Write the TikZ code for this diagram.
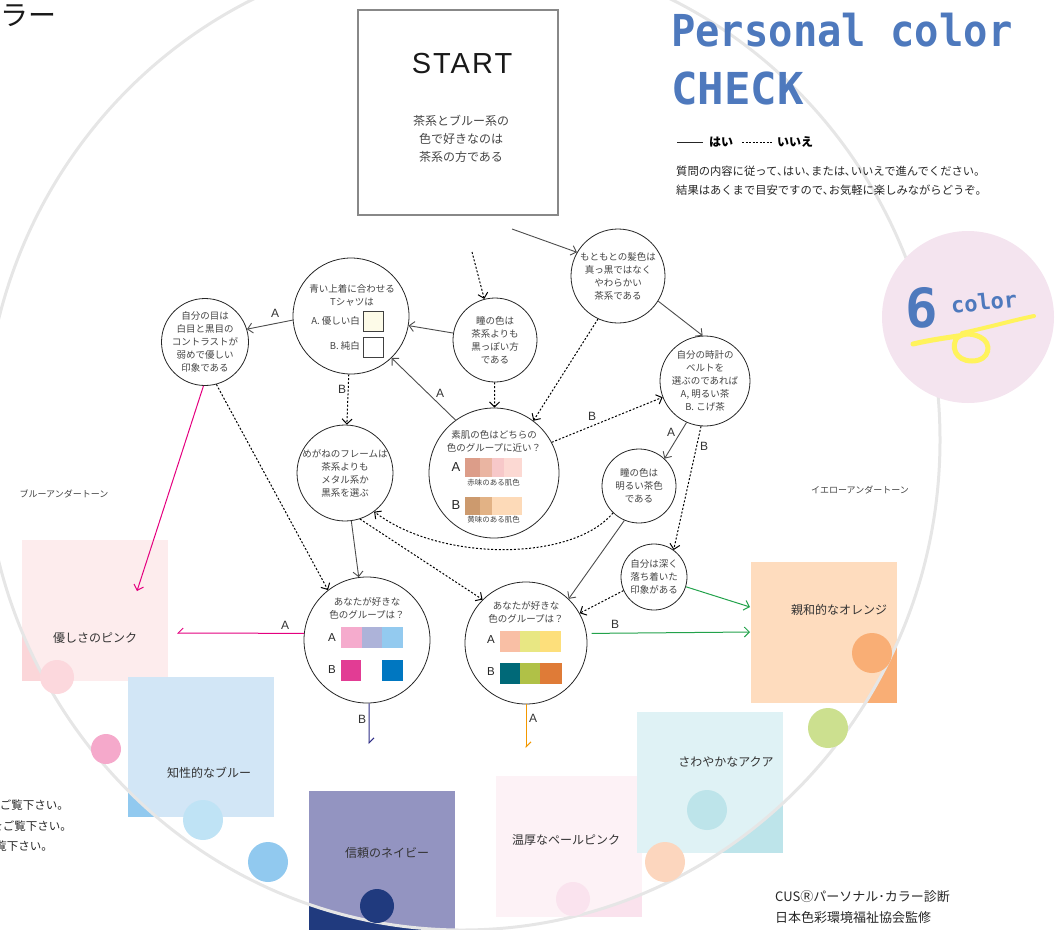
\documentclass[tikz,border=0pt]{standalone}
\usepackage{fontspec}
\setmainfont{Liberation Sans}
\newfontfamily\jp{Noto Sans CJK JP}
\newfontfamily\ttl{DejaVu Sans Mono}
\newfontfamily\startfont[LetterSpace=7]{Liberation Sans}
\usetikzlibrary{arrows.meta}

\definecolor{ink}{HTML}{444444}
\definecolor{ttlblue}{HTML}{4E79BD}
\definecolor{ringgray}{HTML}{E6E6E6}
\definecolor{startgray}{HTML}{888888}
\definecolor{sixpink}{HTML}{F4E4EF}
\definecolor{scrib}{HTML}{FFF35C}
\definecolor{mag}{HTML}{E4007F}
\definecolor{grn}{HTML}{22A24B}
\definecolor{nvy}{HTML}{2E2D86}
\definecolor{org}{HTML}{F39800}
\definecolor{cream}{HTML}{FDFBE8}
% boxes: outside / inside the ring
\definecolor{pinkO}{HTML}{FBD6D9}\definecolor{pinkI}{HTML}{FDECED}
\definecolor{blueO}{HTML}{91C9EF}\definecolor{blueI}{HTML}{D2E6F6}
\definecolor{navyO}{HTML}{203A7E}\definecolor{navyI}{HTML}{9394C1}
\definecolor{paleO}{HTML}{FAE2ED}\definecolor{paleI}{HTML}{FDF2F6}
\definecolor{aquaO}{HTML}{BDE4EA}\definecolor{aquaI}{HTML}{DFF2F5}
\definecolor{orngO}{HTML}{F9AE75}\definecolor{orngI}{HTML}{FEDCBE}
% dots
\definecolor{dotpinkL}{HTML}{FCD8DD}
\definecolor{dotpink}{HTML}{F5A9CB}
\definecolor{dotblueL}{HTML}{BFE3F5}
\definecolor{dotpale}{HTML}{FAE3EE}
\definecolor{dotpeach}{HTML}{FCD6BE}
\definecolor{dotgreen}{HTML}{CCE08F}
% swatches
\definecolor{skA1}{HTML}{DC9D89}\definecolor{skA2}{HTML}{EAB5A2}
\definecolor{skA3}{HTML}{F7C8C9}\definecolor{skA4}{HTML}{FCD9D3}
\definecolor{skB1}{HTML}{CC9A6E}\definecolor{skB2}{HTML}{E2B285}
\definecolor{skB3}{HTML}{FDDAB8}
\definecolor{bA1}{HTML}{F5ABCD}\definecolor{bA2}{HTML}{ADB3D9}
\definecolor{bA3}{HTML}{93CAEF}\definecolor{bB1}{HTML}{E23C94}
\definecolor{bB3}{HTML}{0077C1}
\definecolor{yA1}{HTML}{F9BFA5}\definecolor{yA2}{HTML}{E8E783}
\definecolor{yA3}{HTML}{FDDF7B}\definecolor{yB1}{HTML}{006978}
\definecolor{yB2}{HTML}{B0C147}\definecolor{yB3}{HTML}{DF7B37}

\begin{document}
\begin{tikzpicture}[x=1pt, y=-1pt,
    every node/.style={inner sep=0pt},
    q/.style={circle, draw=black!85, line width=0.8pt, fill=white, inner sep=-14pt,
      minimum size=#1, text=ink, align=center, font=\jp\fontsize{9.5}{13}\selectfont},
    qt/.style={text=ink, align=center, font=\jp\fontsize{9.5}{13}\selectfont},
    yes/.style={draw=black!70, line width=0.9pt, -{Straight Barb[length=5pt,width=10pt]}},
    no/.style={draw=black, line width=1pt, dash pattern=on 2pt off 1.8pt,
      -{Straight Barb[length=5pt,width=10pt]}},
    ab/.style={font=\fontsize{12}{12}\selectfont, text=black!80},
    boxlbl/.style={font=\jp\fontsize{12}{12}\selectfont, text=black!80},
    swlbl/.style={font=\jp\fontsize{7.5}{7.5}\selectfont, text=ink},
    tone/.style={font=\jp\fontsize{9}{9}\selectfont, text=ink},
  ]
  \useasboundingbox (0,0) rectangle (1062,929);
  \clip (0,0) rectangle (1062,929);

  % colour boxes
  \fill[pinkO] (22,540) rectangle (168,681);
  \fill[blueO] (128,677) rectangle (274,817);
  \fill[navyO] (309,791) rectangle (455,935);
  \fill[paleO] (496,776) rectangle (642,917);
  \fill[aquaO] (637,712) rectangle (783,853);
  \fill[orngO] (751,562) rectangle (897,703);
  \begin{scope}
    \clip (462,440) ellipse [x radius=478, y radius=490];
    \fill[pinkI] (22,540) rectangle (168,681);
    \fill[blueI] (128,677) rectangle (274,817);
    \fill[navyI] (309,791) rectangle (455,935);
    \fill[paleI] (496,776) rectangle (642,917);
    \fill[aquaI] (637,712) rectangle (783,853);
    \fill[orngI] (751,562) rectangle (897,703);
  \end{scope}

  % big ring
  \draw[ringgray, line width=3pt] (462,440) ellipse [x radius=478, y radius=490];

  % 6 color badge
  \fill[sixpink] (968,317) circle (86);
  \draw[scrib, line width=5pt, line cap=round]
    (913,344) .. controls (930,340) and (945,338) .. (958,336)
    .. controls (950,346) and (955,361) .. (972,361)
    .. controls (990,361) and (993,343) .. (980,337)
    .. controls (970,332) and (960,334) .. (956,339);
  \draw[scrib, line width=4pt, line cap=round]
    (962,333) .. controls (990,327) and (1010,321) .. (1034,316);
  \node[font=\ttl\bfseries\fontsize{54}{54}\selectfont, text=ttlblue] (six) at (922,308) {6};
  \node[font=\ttl\bfseries\fontsize{22}{22}\selectfont, text=ttlblue, rotate=6] (sixc) at (984,302) {color};

  % dots
  \fill[dotpinkL] (57,677) circle (17);
  \fill[dotpink] (106,749) circle (15);
  \fill[dotblueL] (203,820) circle (20);
  \fill[blueO] (268,862) circle (20);
  \fill[navyO] (377,906) circle (17);
  \fill[dotpale] (573,899) circle (17);
  \fill[dotpeach] (665,862) circle (20);
  \fill[aquaO] (707,810) circle (20);
  \fill[dotgreen] (828,728) circle (20);
  \fill[orngO] (872,653) circle (20);

  % headings and notes
  \node[font=\jp\fontsize{28}{28}\selectfont, anchor=east, text=black!90] (hd) at (57,16) {ラー};
  \node[anchor=base west, font=\ttl\bfseries\fontsize{44}{44}\selectfont, text=ttlblue] (ttl1) at (671,46) {\scalebox{0.92}[1]{Personal color}};
  \node[anchor=base west, font=\ttl\bfseries\fontsize{44}{44}\selectfont, text=ttlblue] (ttl2) at (671,104) {CHECK};
  \draw[black!85, line width=0.8pt] (677,142) -- (703,142);
  \node[font=\jp\bfseries\fontsize{12}{12}\selectfont] (lgyes) at (721,142) {はい};
  \draw[black, line width=1pt, dash pattern=on 2pt off 1.5pt] (742,142) -- (772,142);
  \node[font=\jp\bfseries\fontsize{12}{12}\selectfont] (lgno) at (795,142) {いいえ};
  \node[anchor=west, align=left, font=\jp\fontsize{11.3}{19}\selectfont, text=black!85] (intro) at (676,181)
    {質問の内容に従って､はい､または､いいえで進んでください。\\結果はあくまで目安ですので､お気軽に楽しみながらどうぞ。};
  \node[tone] (tblue) at (64,494) {ブルーアンダートーン};
  \node[tone] (tyel) at (860,490) {イエローアンダートーン};
  \node[anchor=east, font=\jp\fontsize{11.5}{11.5}\selectfont, text=black!85] (side1) at (69,805) {ご覧下さい。};
  \node[anchor=east, font=\jp\fontsize{11.5}{11.5}\selectfont, text=black!85] (side2) at (72,826) {をご覧下さい。};
  \node[anchor=east, font=\jp\fontsize{11.5}{11.5}\selectfont, text=black!85] (side3) at (53,846) {覧下さい。};
  \node[anchor=west, align=left, font=\jp\fontsize{13}{21}\selectfont, text=black!85] (foot) at (775,907)
    {CUSⓇパーソナル･カラー診断\\日本色彩環境福祉協会監修};

  % box labels
  \node[boxlbl] (lpink) at (95,638) {優しさのピンク};
  \node[boxlbl] (lblue) at (209,773) {知性的なブルー};
  \node[boxlbl] (lnavy) at (387,853) {信頼のネイビー};
  \node[boxlbl] (lpale) at (566,840) {温厚なペールピンク};
  \node[boxlbl] (laqua) at (726,762) {さわやかなアクア};
  \node[boxlbl] (lorng) at (839,610) {親和的なオレンジ};

  % start
  \node[draw=startgray, line width=2.5pt, minimum width=200pt, minimum height=205pt] (start) at (458,112.5) {};
  \node[font=\startfont\fontsize{29}{29}\selectfont, text=black!90] (starttl) at (462,64) {START};
  \node[font=\jp\fontsize{12}{18}\selectfont, align=center, text=ink] (startq) at (461,139)
    {茶系とブルー系の\\色で好きなのは\\茶系の方である};

  % questions
  \node[q=116pt] (n1) at (351,316) {};
  \node[qt] (n1t) at (352,295) {青い上着に合わせる\\Tシャツは};
  \node[qt, anchor=east] (n1a) at (360,321) {A. 優しい白};
  \node[qt, anchor=east] (n1b) at (360,346) {B. 純白};
  \node[draw=black!75, line width=0.7pt, fill=cream, minimum size=20pt] (n1sa) at (373.5,321) {};
  \node[draw=black!75, line width=0.7pt, fill=white, minimum size=20pt] (n1sb) at (373.5,347) {};
  \node[q=87pt] (n2) at (205,342) {自分の目は\\白目と黒目の\\コントラストが\\弱めで優しい\\印象である};
  \node[q=84pt] (n3) at (495,340) {瞳の色は\\茶系よりも\\黒っぽい方\\である};
  \node[q=94pt] (n4) at (618,276) {もともとの髪色は\\真っ黒ではなく\\やわらかい\\茶系である};
  \node[q=90pt] (n5) at (705,381) {自分の時計の\\ベルトを\\選ぶのであれば\\A, 明るい茶\\B. こげ茶};
  \node[q=74pt] (n6) at (639,486) {瞳の色は\\明るい茶色\\である};
  \node[q=66pt] (n7) at (654,577) {自分は深く\\落ち着いた\\印象がある};
  \node[q=96pt] (n9) at (345,473) {めがねのフレームは\\茶系よりも\\メタル系か\\黒系を選ぶ};

  % skin colour question
  \node[q=130pt] (n8) at (494,473) {};
  \node[qt] (n8t) at (494,441.5) {素肌の色はどちらの\\色のグループに近い？};
  \node[font=\fontsize{13}{13}\selectfont, text=black!85] (n8a) at (456,467) {A};
  \node[font=\fontsize{13}{13}\selectfont, text=black!85] (n8b) at (456,505) {B};
  \fill[skA1] (465,458) rectangle (480,477);
  \fill[skA2] (480,458) rectangle (492,477);
  \fill[skA3] (492,458) rectangle (504,477);
  \fill[skA4] (504,458) rectangle (522,477);
  \fill[skB1] (465,497) rectangle (480,515);
  \fill[skB2] (480,497) rectangle (492,515);
  \fill[skB3] (492,497) rectangle (522,515);
  \node[swlbl] (n8la) at (493.5,482.5) {赤味のある肌色};
  \node[swlbl] (n8lb) at (493.5,519.5) {黄味のある肌色};

  % favourite colour groups
  \node[q=126pt] (n10) at (367,640) {};
  \node[qt] (n10t) at (367,608) {あなたが好きな\\色のグループは？};
  \node[font=\fontsize{11.5}{11.5}\selectfont, text=black!85] (n10a) at (332,638) {A};
  \node[font=\fontsize{11.5}{11.5}\selectfont, text=black!85] (n10b) at (332,670) {B};
  \fill[bA1] (341,627) rectangle (362,648);
  \fill[bA2] (362,627) rectangle (382,648);
  \fill[bA3] (382,627) rectangle (403,648);
  \fill[bB1] (341,660) rectangle (361,681);
  \fill[bB3] (382,660) rectangle (403,681);

  \node[q=122pt] (n11) at (526,643) {};
  \node[qt] (n11t) at (526,612) {あなたが好きな\\色のグループは？};
  \node[font=\fontsize{11.5}{11.5}\selectfont, text=black!85] (n11a) at (491,640) {A};
  \node[font=\fontsize{11.5}{11.5}\selectfont, text=black!85] (n11b) at (491,672) {B};
  \fill[yA1] (500,631) rectangle (520,652);
  \fill[yA2] (520,631) rectangle (540,652);
  \fill[yA3] (540,631) rectangle (561,652);
  \fill[yB1] (500,663) rectangle (520,684);
  \fill[yB2] (520,663) rectangle (540,684);
  \fill[yB3] (540,663) rectangle (562,684);

  % loose ends
  \coordinate (ys) at (512,229);
  \coordinate (ns) at (472,252);
  \coordinate (pinkin) at (137,591);
  \coordinate (pinkin2) at (177,633);
  \coordinate (navyend) at (369,744);
  \coordinate (paleend) at (526,748);
  \coordinate (orngin1) at (750,607);
  \coordinate (orngin2) at (750,632);

  % arrows
  \draw[yes] (ys) -- (n4.150);
  \draw[no] (ns) -- (n3);
  \draw[yes] (n3) -- (n1);
  \draw[no] (n3) -- (n8);
  \draw[yes] (n4.-32) -- (n5.93);
  \draw[no] (n4.-115) -- (n8.53);
  \draw[no] (n8.28) -- (n5.201);
  \draw[yes] (n8.126) -- (n1.-46);
  \draw[yes] (n1.184) -- (n2.17);
  \draw[no] (n1) -- (n9);
  \draw[no] (n2.-75) -- (n10.128);
  \draw[yes] (n9) -- (n10);
  \draw[no] (n9.-72) -- (n11.135);
  \draw[no] (n6.-134) .. controls (572,562) and (440,562) .. (n9.-53);
  \draw[yes] (n6.-113) -- (n11.46);
  \draw[yes] (n5.-114) -- (n6.47);
  \draw[no] (n5.-95) -- (n7.54);
  \draw[no] (n7.-156) -- (n11.29);
  \draw[mag, line width=1pt, -{Straight Barb[length=5pt,width=10pt]}] (n2.-92) -- (pinkin);
  \draw[mag, line width=1pt, -{Straight Barb[length=5pt,width=10pt,harpoon,swap]}] (n10.174) -- (pinkin2);
  \draw[nvy, line width=1pt, -{Straight Barb[length=5pt,width=10pt,harpoon]}] (n10.-88) -- (navyend);
  \draw[org, line width=1pt, -{Straight Barb[length=5pt,width=10pt,harpoon]}] (n11.-90) -- (paleend);
  \draw[grn, line width=1pt, -{Straight Barb[length=5pt,width=10pt]}] (n7.-17) -- (orngin1);
  \draw[grn, line width=1pt, -{Straight Barb[length=5pt,width=10pt]}] ([xshift=5pt]n11.9) -- (orngin2);

  % answer labels
  \node[ab] (la1) at (275,313) {A};
  \node[ab] (lb1) at (342,389) {B};
  \node[ab] (la2) at (440,393) {A};
  \node[ab] (lb2) at (592,416) {B};
  \node[ab] (la3) at (671,432) {A};
  \node[ab] (lb3) at (704,446) {B};
  \node[ab] (la4) at (285,625) {A};
  \node[ab] (lb4) at (362,719) {B};
  \node[ab] (la5) at (533,718) {A};
  \node[ab] (lb5) at (615,624) {B};
\end{tikzpicture}
\end{document}
